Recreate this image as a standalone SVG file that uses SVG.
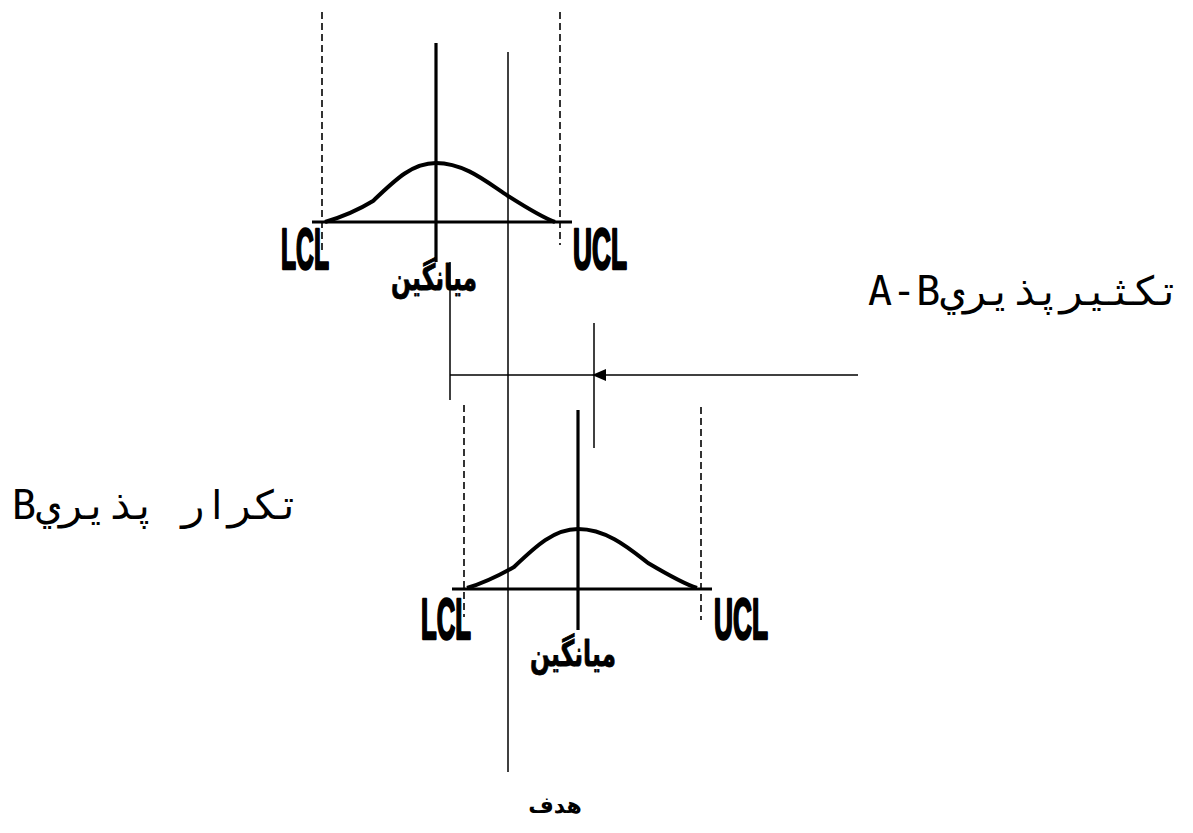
<svg xmlns="http://www.w3.org/2000/svg" width="1193" height="833" viewBox="0 0 1193 833">
<style>
.dash{stroke:#000;stroke-width:1.6;stroke-dasharray:7 4;fill:none}
.thick{stroke:#000;stroke-width:3.2;fill:none}
.thin{stroke:#000;stroke-width:1.5;fill:none}
.curve{stroke:#000;stroke-width:4;fill:none;stroke-linejoin:round}
.lim{font-family:"Liberation Sans Narrow","Liberation Sans",Arial,sans-serif;font-weight:bold;font-size:57px;fill:#000;stroke:#000;stroke-width:2.6;stroke-linejoin:round}
.mean{font-family:"DejaVu Sans",sans-serif;font-weight:bold;font-size:36px;fill:#000;stroke:#000;stroke-width:0.8;stroke-linejoin:round}
.lbl{font-family:"DejaVu Sans Mono",monospace;font-size:40px;fill:#000}
</style>
<rect width="1193" height="833" fill="#fff"/>

<g id="chartA">
<line class="dash" x1="322" y1="12" x2="322" y2="250"/>
<line class="dash" x1="560" y1="12" x2="560" y2="245"/>
<line class="thick" x1="312" y1="222" x2="572" y2="222"/>
<line class="thick" x1="436" y1="43" x2="436" y2="262"/>
<path class="curve" d="M325,222 C345,216 360,209 373,201 C395,180 412,163 436,163 C465,163 488,183 508,196 C530,210 543,218 555,222"/>
<text class="lim" x="281" y="269" textLength="48" lengthAdjust="spacingAndGlyphs">LCL</text>
<text class="lim" x="573" y="269" textLength="54" lengthAdjust="spacingAndGlyphs">UCL</text>
<text class="mean" x="391" y="290" textLength="86" lengthAdjust="spacingAndGlyphs">میانگین</text>
</g>

<g id="chartB">
<line class="dash" x1="464" y1="405" x2="464" y2="617"/>
<line class="dash" x1="701" y1="407" x2="701" y2="620"/>
<line class="thick" x1="452" y1="589" x2="712" y2="589"/>
<line class="thick" x1="578" y1="410" x2="578" y2="630"/>
<path class="curve" d="M467,588 C487,582 500,575 514,567 C536,546 554,529 578,529 C607,529 630,549 648,563 C670,576 684,584 697,588"/>
<text class="lim" x="421" y="639" textLength="50" lengthAdjust="spacingAndGlyphs">LCL</text>
<text class="lim" x="714" y="639" textLength="54" lengthAdjust="spacingAndGlyphs">UCL</text>
<text class="mean" x="530" y="666" textLength="86" lengthAdjust="spacingAndGlyphs">میانگین</text>
</g>

<g id="target">
<line class="thin" x1="508" y1="52" x2="508" y2="772"/>
<text x="555" y="813" text-anchor="middle" font-family="DejaVu Sans,sans-serif" font-weight="bold" font-size="22">هدف</text>
</g>

<g id="labelAB">
<text class="lbl" x="868" y="305">A-Bتكثيرپذيري</text>
</g>
<g id="labelB">
<text class="lbl" x="12" y="519">Bتكرار پذيري</text>
</g>

<g id="connectors">
<line class="thin" x1="450" y1="262" x2="450" y2="400"/>
<line class="thin" x1="594" y1="323" x2="594" y2="448"/>
<line class="thin" x1="450" y1="375" x2="858" y2="375"/>
<path d="M592,375 L606,369 L606,381 z" fill="#000"/>
</g>
</svg>
